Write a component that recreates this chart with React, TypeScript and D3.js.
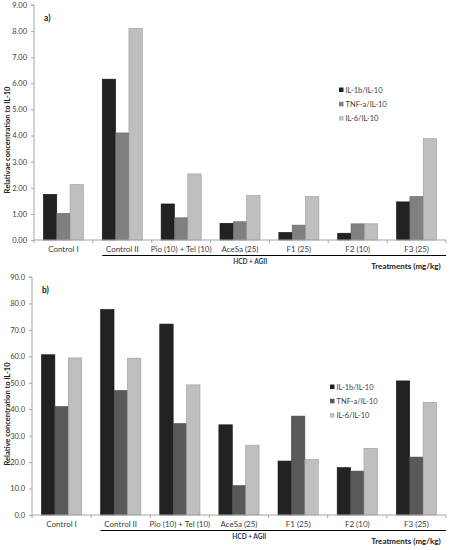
import React, { useEffect, useRef } from "react";
import * as d3 from "d3";

const categories = [
  "Control I",
  "Control II",
  "Pio (10) + Tel (10)",
  "AceSa (25)",
  "F1 (25)",
  "F2 (10)",
  "F3 (25)",
];
const seriesNames = ["IL-1b/IL-10", "TNF-a/IL-10", "IL-6/IL-10"];

// panel a)
const aIL1b = [1.75, 6.16, 1.38, 0.64, 0.29, 0.26, 1.46];
const aTNF = [1.02, 4.1, 0.85, 0.7, 0.57, 0.62, 1.67];
const aIL6 = [2.12, 8.1, 2.53, 1.7, 1.66, 0.62, 3.88];
const aTicks = [0, 1, 2, 3, 4, 5, 6, 7, 8, 9];

// panel b)
const bIL1b = [60.6, 77.7, 72.2, 34.1, 20.4, 17.9, 50.7];
const bTNF = [41.0, 47.1, 34.6, 11.1, 37.4, 16.6, 21.9];
const bIL6 = [59.4, 59.3, 49.2, 26.4, 21.0, 25.2, 42.6];
const bTicks = [0, 10, 20, 30, 40, 50, 60, 70, 80, 90];

const FONT = "Lato, 'Open Sans', sans-serif";

function drawPanel(svg, opts) {
  const { left, right, top, bottom, max, ticks, fmt, series, colors, tag, yTitle, titleY, legendX, legendY } = opts;
  const g = svg.append("g");

  const x = d3.scaleBand().domain(categories).range([left, right]).padding(0);
  const bw = x.bandwidth();
  const xs = d3
    .scaleBand()
    .domain(seriesNames)
    .range([bw * 0.16, bw * 0.84])
    .padding(0);
  const y = d3.scaleLinear().domain([0, max]).range([bottom, top]);

  // bars
  series.forEach((vals, si) => {
    g.append("g")
      .selectAll("rect")
      .data(vals)
      .enter()
      .append("rect")
      .attr("x", (d, i) => x(categories[i]) + xs(seriesNames[si]))
      .attr("y", (d) => y(d))
      .attr("width", xs.bandwidth())
      .attr("height", (d) => y(0) - y(d))
      .attr("fill", colors[si])
      .attr("stroke", si === 0 ? "#111" : d3.color(colors[si]).darker(0.6).toString())
      .attr("stroke-width", 0.6);
  });

  // y axis
  const yAxis = g
    .append("g")
    .attr("transform", `translate(${left},0)`)
    .call(d3.axisLeft(y).tickValues(ticks).tickSize(3).tickPadding(4).tickFormat(fmt));
  yAxis.select(".domain").attr("stroke", "#a6a6a6").attr("d", `M-3,${y(max)}H0V${bottom}`);
  yAxis.selectAll(".tick line").attr("stroke", "#a6a6a6");
  yAxis.selectAll(".tick text").attr("fill", "#404040").attr("font-size", 7.5).attr("font-family", FONT);

  // x axis
  const xAxis = g
    .append("g")
    .attr("transform", `translate(0,${bottom})`)
    .call(d3.axisBottom(x).tickSize(0).tickPadding(6));
  xAxis.select(".domain").attr("stroke", "#a6a6a6").attr("d", `M${left},0H${right}`);
  xAxis.selectAll(".tick text").attr("fill", "#404040").attr("font-size", 8).attr("font-family", FONT);
  g.append("g")
    .selectAll("line")
    .data(d3.range(categories.length + 1))
    .enter()
    .append("line")
    .attr("x1", (i) => left + i * bw)
    .attr("x2", (i) => left + i * bw)
    .attr("y1", bottom)
    .attr("y2", bottom + 3)
    .attr("stroke", "#a6a6a6");

  // group bracket
  const gx0 = x("Control II") + xs.range()[0];
  g.append("line")
    .attr("x1", gx0)
    .attr("x2", right)
    .attr("y1", bottom + 15.5)
    .attr("y2", bottom + 15.5)
    .attr("stroke", "#000")
    .attr("stroke-width", 1.2);
  g.append("text")
    .attr("x", (gx0 + right) / 2 - 24)
    .attr("y", bottom + 24)
    .attr("text-anchor", "middle")
    .attr("font-size", 6.5)
    .attr("font-weight", "bold")
    .attr("font-family", FONT)
    .attr("fill", "#1f3864")
    .text("HCD + AGII");
  g.append("text")
    .attr("x", right - 40)
    .attr("y", bottom + 29)
    .attr("text-anchor", "middle")
    .attr("font-size", 8)
    .attr("font-weight", "bold")
    .attr("font-family", FONT)
    .attr("fill", "#222")
    .text("Treatments (mg/kg)");

  // panel tag
  g.append("text")
    .attr("x", left + 10)
    .attr("y", top + 16)
    .attr("font-size", 8.5)
    .attr("font-weight", "bold")
    .attr("font-family", FONT)
    .attr("fill", "#222")
    .text(tag);

  // y title
  g.append("text")
    .attr("transform", `translate(10,${titleY}) rotate(-90)`)
    .attr("text-anchor", "middle")
    .attr("font-size", 7.5)
    .attr("font-weight", "bold")
    .attr("font-family", FONT)
    .attr("fill", "#222")
    .text(yTitle);

  // legend
  const lg = g.append("g").attr("transform", `translate(${legendX},${legendY})`);
  seriesNames.forEach((name, i) => {
    lg.append("rect")
      .attr("x", 0)
      .attr("y", i * 14.3 - 2.5)
      .attr("width", 4.5)
      .attr("height", 4.5)
      .attr("fill", colors[i]);
    lg.append("text")
      .attr("x", 6.5)
      .attr("y", i * 14.3 + 2.6)
      .attr("font-size", 7.5)
      .attr("font-family", FONT)
      .attr("fill", "#404040")
      .text(name);
  });
}

const App = () => {
  const svgRef = useRef<SVGSVGElement | null>(null);

  useEffect(() => {
    const svg = d3.select(svgRef.current);
    svg.selectAll("*").remove();

    drawPanel(svg, {
      left: 34,
      right: 446,
      top: 5,
      bottom: 240,
      max: 9,
      ticks: aTicks,
      fmt: (d) => d3.format(".2f")(d),
      series: [aIL1b, aTNF, aIL6],
      colors: ["#222222", "#808080", "#bfbfbf"],
      tag: "a)",
      yTitle: "Relativae concentration to IL-10",
      titleY: 140,
      legendX: 339,
      legendY: 90,
    });

    drawPanel(svg, {
      left: 32,
      right: 446,
      top: 277,
      bottom: 515,
      max: 90,
      ticks: bTicks,
      fmt: (d) => d3.format(".1f")(d),
      series: [bIL1b, bTNF, bIL6],
      colors: ["#222222", "#595959", "#bfbfbf"],
      tag: "b)",
      yTitle: "Relative concentration to IL-10",
      titleY: 414,
      legendX: 330,
      legendY: 387,
    });
  }, []);

  return (
    <svg
      ref={svgRef}
      width={452}
      height={550}
      style={{ position: "absolute", left: 0, top: 0, background: "#fff" }}
    ></svg>
  );
};

export default App;
